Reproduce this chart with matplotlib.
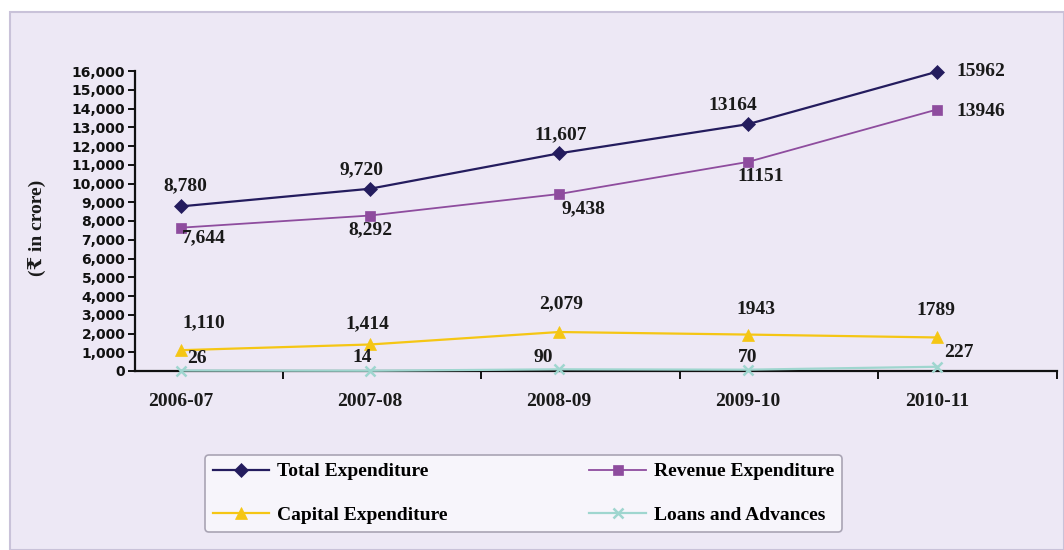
import matplotlib
matplotlib.use("Agg")
import matplotlib.pyplot as plt
from matplotlib.patches import Rectangle
from matplotlib.ticker import FuncFormatter, FixedLocator

# ---- data -------------------------------------------------------------
years = ["2006-07", "2007-08", "2008-09", "2009-10", "2010-11"]
total_exp = [8780, 9720, 11607, 13164, 15962]
revenue_exp = [7644, 8292, 9438, 11151, 13946]
capital_exp = [1110, 1414, 2079, 1943, 1789]
loans_adv = [26, 14, 90, 70, 227]

series_names = ["Total Expenditure", "Revenue Expenditure",
                "Capital Expenditure", "Loans and Advances"]
# whether each data label is printed with a thousands separator
comma_total = [True, True, True, False, False]
comma_revenue = [True, True, True, False, False]
comma_capital = [True, True, True, False, False]
comma_loans = [False, False, False, False, False]

y_ticks = list(range(0, 16001, 1000))

# ---- styling ----------------------------------------------------------
SERIF = ["Liberation Serif", "DejaVu Serif"]
BG = "#EDE8F5"
colors = ["#241C5E", "#8E4C9E", "#F5C614", "#9FD6CF"]
markers = ["D", "s", "^", "x"]
msizes = [7.5, 7, 8.5, 7]
lwidths = [1.6, 1.3, 1.6, 1.6]

# label offsets in pixels (dx, dy) per point
off_total = [(4, 21), (-8, 19), (2, 19), (-15, 19), (19, 0)]
off_revenue = [(23, -10), (0, -14), (24, -15), (13, -15), (19, -2)]
off_capital = [(23, 27), (-3, 21), (2, 28), (8, 25), (-1, 27)]
off_loans = [(16, 12), (-8, 13), (-16, 12), (0, 12), (22, 14)]
ha_right_last = [False, False, False, False, True]

W, H = 1064, 550
fig = plt.figure(figsize=(W / 100, H / 100), dpi=100, facecolor="white")

# lavender panel behind the chart
panel = Rectangle((10 / W, 0), 1 - 10 / W, 1 - 12 / H, transform=fig.transFigure,
                  facecolor=BG, edgecolor="#C9C2D9", linewidth=1.5, zorder=-10)
fig.patches.append(panel)

ax = fig.add_axes([135 / W, 1 - 371 / H, (1057 - 135) / W, 300 / H])
ax.set_facecolor("none")
x = list(range(len(years)))
ax.set_xlim(-0.243, 4.635)
ax.set_ylim(0, 16000)

all_series = [total_exp, revenue_exp, capital_exp, loans_adv]
for vals, c, m, ms, lw, name in zip(all_series, colors, markers, msizes, lwidths, series_names):
    ax.plot(x, vals, color=c, marker=m, markersize=ms, linewidth=lw,
            markeredgewidth=1.8 if m == "x" else 0.5, markeredgecolor=c,
            label=name, clip_on=False, zorder=3)


def fmt(v, comma):
    return f"{v:,}" if comma else f"{v}"


for vals, commas, offs in [(total_exp, comma_total, off_total),
                           (revenue_exp, comma_revenue, off_revenue),
                           (capital_exp, comma_capital, off_capital),
                           (loans_adv, comma_loans, off_loans)]:
    for i, (v, cm, (dx, dy)) in enumerate(zip(vals, commas, offs)):
        is_right = ha_right_last[i] and offs in (off_total, off_revenue)
        ax.annotate(fmt(v, cm), (x[i], v), xytext=(dx, dy), textcoords="offset pixels",
                    ha="left" if is_right else "center", va="center",
                    fontsize=14, fontweight="bold", family=SERIF, color="#1a1a1a",
                    annotation_clip=False, zorder=5)

# axes
for s in ["top", "right"]:
    ax.spines[s].set_visible(False)
for s in ["left", "bottom"]:
    ax.spines[s].set_color("#111111")
    ax.spines[s].set_linewidth(1.6)

ax.yaxis.set_major_locator(FixedLocator(y_ticks))
ax.yaxis.set_major_formatter(FuncFormatter(lambda v, p: f"{int(v):,}"))
ax.tick_params(axis="y", direction="out", length=5, width=1.4, pad=2,
               labelsize=10, colors="#111111")
for lab in ax.get_yticklabels():
    lab.set_fontweight("bold")
    lab.set_family("DejaVu Sans")

ax.set_xticks(x)
ax.set_xticklabels(years, fontsize=14, fontweight="bold", family=SERIF, color="#1a1a1a")
ax.tick_params(axis="x", which="major", length=0, pad=16)
ax.set_xticks([0.54, 1.59, 2.64, 3.69, 4.635], minor=True)
ax.tick_params(axis="x", which="minor", direction="out", length=6, width=1.4, color="#111111")

fig.text(38 / W, 1 - 228 / H, "(\u20b9 in crore)", rotation=90, ha="center", va="center",
         fontsize=14, fontweight="bold", family=SERIF, color="#1a1a1a")

# legend
handles, labels = ax.get_legend_handles_labels()
order = [0, 2, 1, 3]
leg = fig.legend([handles[i] for i in order], [labels[i] for i in order],
                 loc="upper left", bbox_to_anchor=(205 / W, 1 - 455 / H),
                 ncol=2, frameon=True, fancybox=True,
                 prop={"family": SERIF, "weight": "bold", "size": 14},
                 handlelength=2.9, handletextpad=0.4, columnspacing=7.3,
                 labelspacing=1.35, borderpad=0.4, borderaxespad=0)
leg.get_frame().set_facecolor("#F7F5FB")
leg.get_frame().set_edgecolor("#A9A4B4")
leg.get_frame().set_linewidth(1.2)
leg.get_frame().set_alpha(1)

fig.savefig("out.png", dpi=100, facecolor=fig.get_facecolor())
